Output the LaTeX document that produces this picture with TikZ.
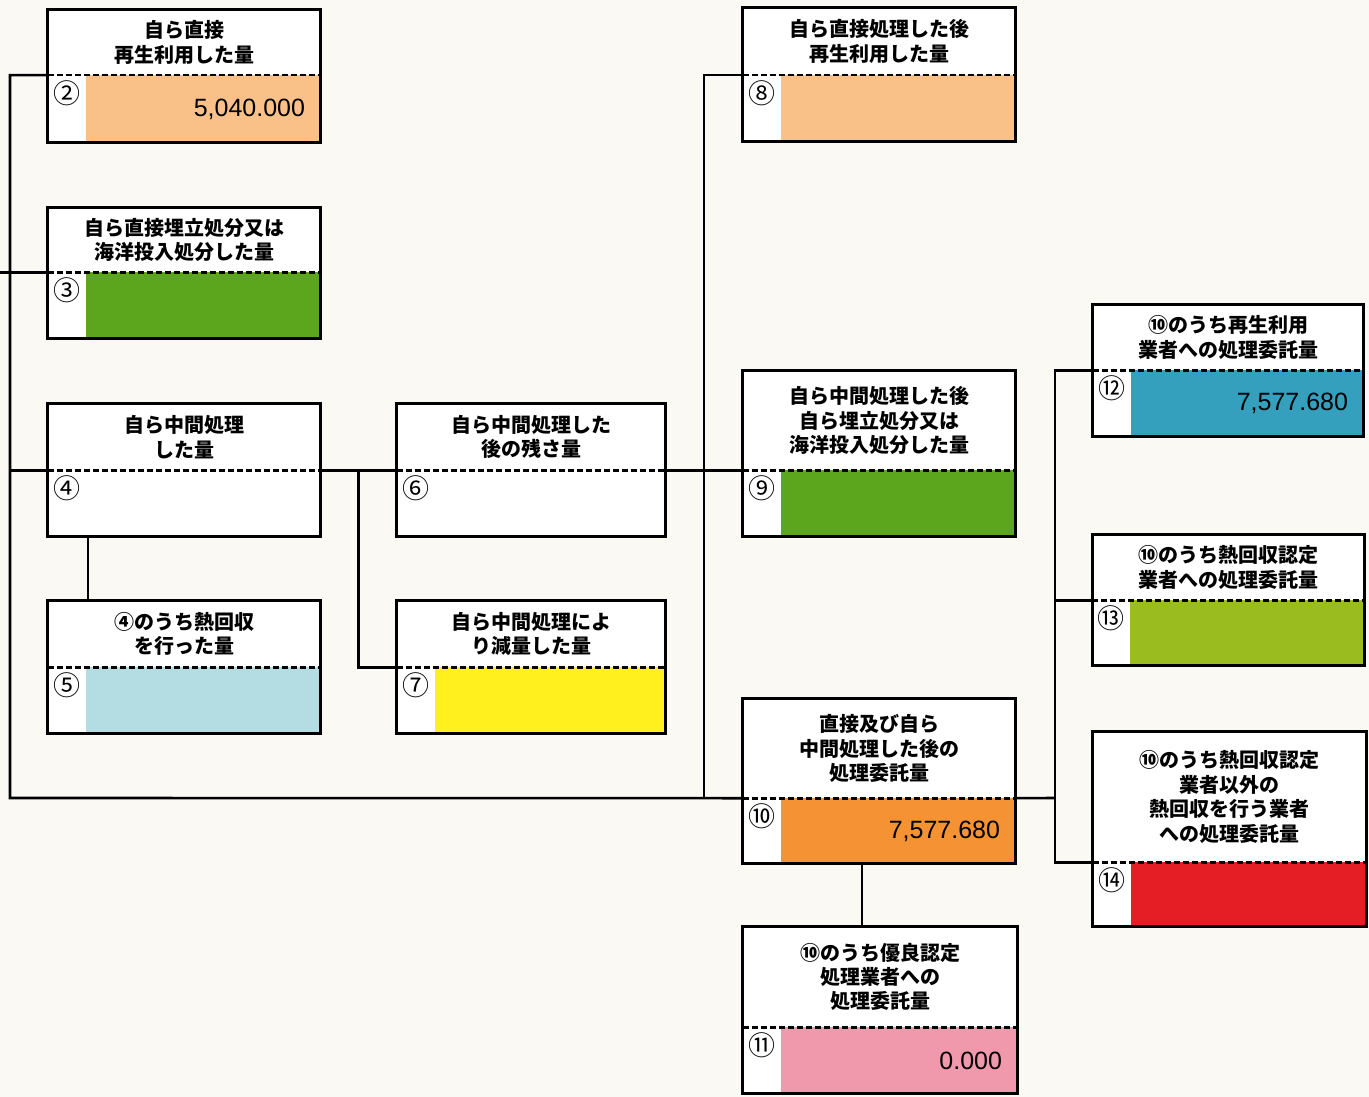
\documentclass[tikz,border=0pt]{standalone}
\usepackage{fontspec}
\usepackage{xcolor}
\usetikzlibrary{positioning, calc}
\newfontfamily\jpfont{Noto Sans CJK JP}
\newfontfamily\numfont{Liberation Sans}
\definecolor{paperBg}{RGB}{250, 249, 244}
\definecolor{reusePeach}{RGB}{249, 192, 136}
\definecolor{landGreen}{RGB}{92, 166, 30}
\definecolor{heatBlue}{RGB}{180, 221, 227}
\definecolor{reduceYellow}{RGB}{255, 240, 30}
\definecolor{consignOrange}{RGB}{244, 146, 52}
\definecolor{goodPink}{RGB}{240, 152, 172}
\definecolor{recycleBlue}{RGB}{52, 160, 190}
\definecolor{heatOlive}{RGB}{154, 188, 30}
\definecolor{otherRed}{RGB}{228, 30, 36}

\begin{document}
\begin{tikzpicture}[x=1pt, y=-1pt,
          ttl/.style={fill=white, minimum width=272pt, inner sep=0pt, align=center,
                      font=\jpfont\bfseries\fontsize{20}{24.4}\selectfont},
          cell/.style={fill=white, minimum width=272pt, minimum height=66pt,
                       text width=242pt, inner xsep=15pt, inner ysep=0pt, align=right,
                       font=\numfont\fontsize{25}{25}\selectfont,
                       path picture={\fill[#1] ([xshift=38pt]path picture bounding box.north west)
                                     rectangle (path picture bounding box.south east);}},
          cell/.default=white,
          num/.style={font=\jpfont\fontsize{27}{27}\selectfont, inner sep=0pt,
                      anchor=center, xshift=19pt, yshift=-18pt},
          frame/.style={draw, line width=3pt},
          sep/.style={dash pattern=on 6pt off 3pt, line width=2.6pt},
          conn/.style={line width=2.6pt}
        ]
        \fill[paperBg] (0,0) rectangle (1369,1097);
        \useasboundingbox (0,0) rectangle (1369,1097);

        % left column
        \node[ttl, minimum height=65pt] (t2) at (184,42.5) {自ら直接\\再生利用した量};
        \node[cell=reusePeach, minimum height=67pt, below=0pt of t2,
              label={[num]north west:②}] (c2) {5,040.000};
        \draw[frame] (t2.north west) rectangle (c2.south east);
        \draw[sep] (c2.north west) -- (c2.north east);

        \node[ttl, minimum height=64pt] (t3) at (184,240) {自ら直接埋立処分又は\\海洋投入処分した量};
        \node[cell=landGreen, below=0pt of t3, label={[num]north west:③}] (c3) {};
        \draw[frame] (t3.north west) rectangle (c3.south east);
        \draw[sep] (c3.north west) -- (c3.north east);

        \node[ttl, minimum height=66pt] (t4) at (184,437) {自ら中間処理\\した量};
        \node[cell, below=0pt of t4, label={[num]north west:④}] (c4) {};
        \draw[frame] (t4.north west) rectangle (c4.south east);
        \draw[sep] (c4.north west) -- (c4.north east);

        \node[ttl, minimum height=66pt] (t5) at (184,634) {④のうち熱回収\\を行った量};
        \node[cell=heatBlue, below=0pt of t5, label={[num]north west:⑤}] (c5) {};
        \draw[frame] (t5.north west) rectangle (c5.south east);
        \draw[sep] (c5.north west) -- (c5.north east);

        % second column
        \node[ttl, minimum width=268pt, minimum height=66pt] (t6) at (531,437) {自ら中間処理した\\後の残さ量};
        \node[cell, minimum width=268pt, text width=238pt, below=0pt of t6,
              label={[num]north west:⑥}] (c6) {};
        \draw[frame] (t6.north west) rectangle (c6.south east);
        \draw[sep] (c6.north west) -- (c6.north east);

        \node[ttl, minimum width=268pt, minimum height=66pt] (t7) at (531,634) {自ら中間処理によ\\り減量した量};
        \node[cell=reduceYellow, minimum width=268pt, text width=238pt, below=0pt of t7,
              label={[num]north west:⑦}] (c7) {};
        \draw[frame] (t7.north west) rectangle (c7.south east);
        \draw[sep] (c7.north west) -- (c7.north east);

        % third column
        \node[ttl, minimum height=67pt] (t8) at (879,41.5) {自ら直接処理した後\\再生利用した量};
        \node[cell=reusePeach, below=0pt of t8, label={[num]north west:⑧}] (c8) {};
        \draw[frame] (t8.north west) rectangle (c8.south east);
        \draw[sep] (c8.north west) -- (c8.north east);

        \node[ttl, minimum height=99pt] (t9) at (879,420.5) {自ら中間処理した後\\自ら埋立処分又は\\海洋投入処分した量};
        \node[cell=landGreen, below=0pt of t9, label={[num]north west:⑨}] (c9) {};
        \draw[frame] (t9.north west) rectangle (c9.south east);
        \draw[sep] (c9.north west) -- (c9.north east);

        \node[ttl, minimum height=99pt] (t10) at (879,748.5) {直接及び自ら\\中間処理した後の\\処理委託量};
        \node[cell=consignOrange, minimum height=65pt, below=0pt of t10,
              label={[num]north west:⑩}] (c10) {7,577.680};
        \draw[frame] (t10.north west) rectangle (c10.south east);
        \draw[sep] (c10.north west) -- (c10.north east);

        \node[ttl, minimum width=274pt, minimum height=100pt] (t11) at (880,977) {⑩のうち優良認定\\処理業者への\\処理委託量};
        \node[cell=goodPink, minimum width=274pt, text width=244pt, below=0pt of t11,
              label={[num]north west:⑪}] (c11) {0.000};
        \draw[frame] (t11.north west) rectangle (c11.south east);
        \draw[sep] (c11.north west) -- (c11.north east);

        % right column
        \node[ttl, minimum width=270pt, minimum height=65pt] (t12) at (1228,337.5) {⑩のうち再生利用\\業者への処理委託量};
        \node[cell=recycleBlue, minimum width=270pt, text width=240pt, below=0pt of t12,
              label={[num]north west:⑫}] (c12) {7,577.680};
        \draw[frame] (t12.north west) rectangle (c12.south east);
        \draw[sep] (c12.north west) -- (c12.north east);

        \node[ttl, minimum width=270pt, minimum height=65pt] (t13) at (1228,567.5) {⑩のうち熱回収認定\\業者への処理委託量};
        \node[cell=heatOlive, minimum width=270pt, minimum height=65pt, below=0pt of t13,
              label={[num]north west:⑬}] (c13) {};
        \draw[frame] (t13.north west) rectangle (c13.south east);
        \draw[sep] (c13.north west) -- (c13.north east);

        \node[ttl, minimum width=273pt, minimum height=130pt] (t14) at (1229.5,797) {⑩のうち熱回収認定\\業者以外の\\熱回収を行う業者\\への処理委託量};
        \node[cell=otherRed, minimum width=273pt, minimum height=64pt, below=0pt of t14,
              label={[num]north west:⑭}] (c14) {};
        \draw[frame] (t14.north west) rectangle (c14.south east);
        \draw[sep] (c14.north west) -- (c14.north east);

        % connectors
        \coordinate (busL) at (10,798);
        \coordinate (busR) at (1055,798);
        \coordinate (j7) at ($(c4.north east)!0.5!(c6.north west)$);
        \coordinate (busM) at ($(c6.north east)!0.5!(c9.north west)$);

        \draw[conn] (c2.north west) -| (busL) -- (c10.north west);
        \draw[conn] (c3.north west) -- ++(-48,0);
        \draw[conn] (c4.north west) -- (c4.north west -| busL);
        \draw[conn] ([xshift=40pt]c4.south west) -- ([xshift=40pt]t5.north west);
        \draw[conn] (c4.north east) -- (c6.north west);
        \draw[conn] (j7) |- (c7.north west);
        \draw[conn] (c6.north east) -- (c9.north west);
        \draw[conn] (c8.north west) -| (busM |- c10.north west);
        \draw[conn] ([xshift=119pt]c10.south west) -- ([xshift=119pt]c10.south west |- t11.north);
        \draw[conn] (c10.north east) -- (busR);
        \draw[conn] (c12.north west) -| (busR |- c14.north west) -- (c14.north west);
        \draw[conn] (c13.north west) -- (c13.north west -| busR);
      \end{tikzpicture}
\end{document}
